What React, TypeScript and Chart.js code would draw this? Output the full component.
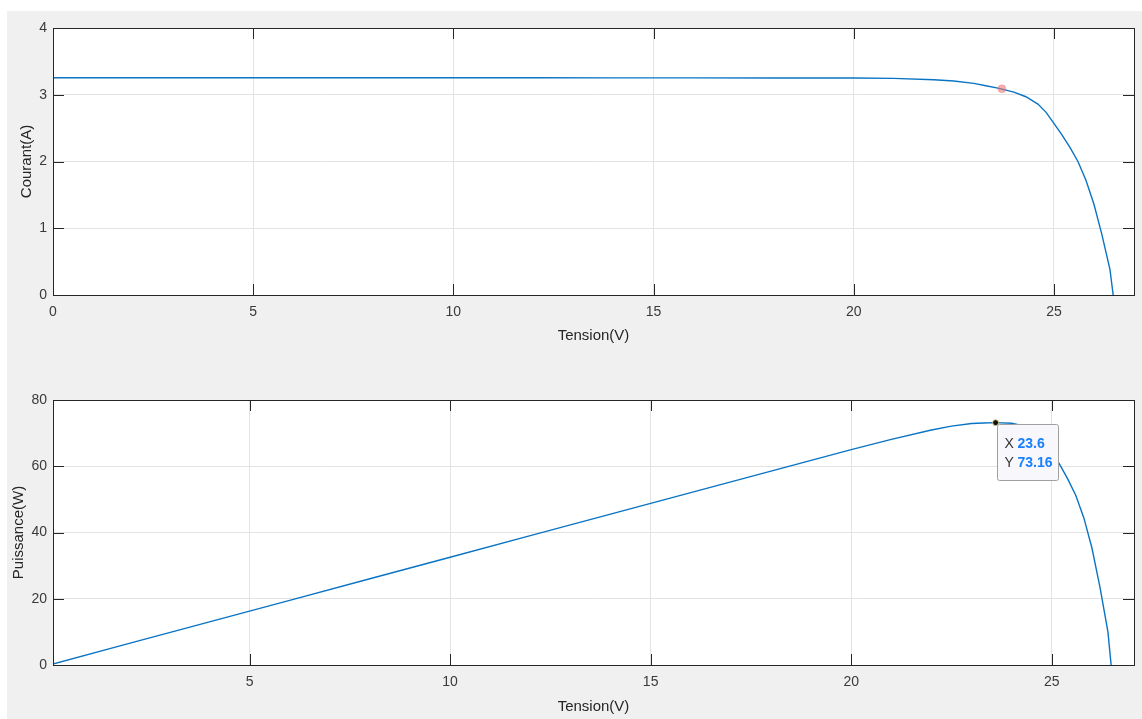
import React, { useEffect, useRef } from "react";
import { Chart, registerables } from "chart.js";

Chart.register(...registerables);

// ---- data ----
const voltage = [0, 2, 4, 6, 8, 10, 12, 14, 16, 18, 20, 21, 22, 22.5, 23, 23.3, 23.6, 24, 24.3, 24.6, 24.8, 25, 25.2, 25.4, 25.6, 25.8, 26, 26.2, 26.4, 26.48];
const current = [3.255, 3.255, 3.255, 3.255, 3.255, 3.254, 3.254, 3.253, 3.253, 3.252, 3.25, 3.245, 3.225, 3.205, 3.17, 3.135, 3.1, 3.04, 2.97, 2.86, 2.74, 2.57, 2.4, 2.21, 2.0, 1.72, 1.36, 0.9, 0.38, 0];
const power = [0, 6.51, 13.02, 19.53, 26.04, 32.54, 39.05, 45.54, 52.05, 58.54, 65.0, 68.1, 70.95, 72.1, 72.9, 73.05, 73.16, 72.96, 72.2, 70.4, 68.0, 64.3, 60.5, 56.1, 51.2, 44.4, 35.4, 23.6, 10.0, 0];

const xTicksTop = [0, 5, 10, 15, 20, 25];
const yTicksTop = [0, 1, 2, 3, 4];
const xTicksBottom = [5, 10, 15, 20, 25];
const yTicksBottom = [0, 20, 40, 60, 80];

const markerTopX = [23.7];
const markerTopY = [3.09];
const datatipX = [23.6];
const datatipY = [73.16];

const xTitle = "Tension(V)";
const yTitleTop = "Courant(A)";
const yTitleBottom = "Puissance(W)";

const FONT = "'Liberation Sans', Arial, Helvetica, sans-serif";
const LINE_COLOR = "#0a74c4";

const boxPlugin = {
  id: "matlabBox",
  beforeDraw(chart: any) {
    const { ctx, chartArea: a } = chart;
    ctx.save();
    ctx.fillStyle = "#ffffff";
    ctx.fillRect(a.left, a.top, a.right - a.left, a.bottom - a.top);
    ctx.restore();
  },
  afterDatasetDraw(chart: any, args: any) {
    const tip = chart.options.plugins.matlabBox?.tip;
    if (!tip || args.index !== 1) return;
    const { ctx, scales } = chart;
    const px = scales.x.getPixelForValue(tip.x);
    const py = scales.y.getPixelForValue(tip.y);
    const bx = Math.round(px + 1) + 0.5;
    const by = Math.round(py + 1.5) + 0.5;
    const bw = 61;
    const bh = 56;
    ctx.save();
    ctx.beginPath();
    const r = 2;
    ctx.moveTo(bx + r, by);
    ctx.lineTo(bx + bw - r, by);
    ctx.arcTo(bx + bw, by, bx + bw, by + r, r);
    ctx.lineTo(bx + bw, by + bh - r);
    ctx.arcTo(bx + bw, by + bh, bx + bw - r, by + bh, r);
    ctx.lineTo(bx + r, by + bh);
    ctx.arcTo(bx, by + bh, bx, by + bh - r, r);
    ctx.lineTo(bx, by + r);
    ctx.arcTo(bx, by, bx + r, by, r);
    ctx.closePath();
    ctx.fillStyle = "#f8f8fc";
    ctx.fill();
    ctx.strokeStyle = "#a0a0a0";
    ctx.lineWidth = 1;
    ctx.stroke();
    ctx.textBaseline = "middle";
    ctx.textAlign = "left";
    ctx.font = `14px ${FONT}`;
    ctx.fillStyle = "#333333";
    ctx.fillText("X", bx + 7, by + 20);
    ctx.fillText("Y", bx + 7, by + 39);
    ctx.font = `bold 14px ${FONT}`;
    ctx.fillStyle = "#1a7fff";
    ctx.fillText(String(tip.x), bx + 20, by + 20);
    ctx.fillText(String(tip.y), bx + 20, by + 39);
    ctx.restore();
  },
  afterDraw(chart: any) {
    const { ctx, chartArea: a, scales } = chart;
    const L = chart.options.plugins.matlabBox?.tickLen ?? 11;
    ctx.save();
    ctx.strokeStyle = "#262626";
    ctx.lineWidth = 1;
    ctx.beginPath();
    for (const t of scales.x.ticks) {
      const px = Math.round(scales.x.getPixelForValue(t.value)) + 0.5;
      ctx.moveTo(px, a.bottom);
      ctx.lineTo(px, a.bottom - L);
      ctx.moveTo(px, a.top);
      ctx.lineTo(px, a.top + L);
    }
    for (const t of scales.y.ticks) {
      const py = Math.round(scales.y.getPixelForValue(t.value)) + 0.5;
      ctx.moveTo(a.left, py);
      ctx.lineTo(a.left + L, py);
      ctx.moveTo(a.right, py);
      ctx.lineTo(a.right - L, py);
    }
    ctx.stroke();
    ctx.strokeRect(Math.round(a.left) + 0.5, Math.round(a.top) + 0.5, Math.round(a.right - a.left), Math.round(a.bottom - a.top));
    ctx.restore();
  },
};

function makeConfig(p: any): any {
  return {
    type: "scatter",
    data: {
      datasets: [
        {
          data: p.markX.map((x: number, i: number) => ({ x, y: p.markY[i] })),
          showLine: false,
          pointRadius: p.markRadius,
          pointBackgroundColor: p.markFill,
          pointBorderColor: p.markBorder,
          pointBorderWidth: 1,
        },
        {
          data: p.xs.map((x: number, i: number) => ({ x, y: p.ys[i] })),
          showLine: true,
          borderColor: LINE_COLOR,
          borderWidth: 1.4,
          pointRadius: 0,
          tension: 0,
          fill: false,
        },
      ],
    },
    options: {
      responsive: false,
      animation: false,
      events: [],
      layout: { padding: { left: 0, top: p.padTop, right: 8, bottom: 0 } },
      plugins: {
        legend: { display: false },
        tooltip: { enabled: false },
        matlabBox: { tickLen: 11, tip: p.tip },
      },
      scales: {
        x: {
          type: "linear",
          min: p.xMin,
          max: p.xMax,
          afterBuildTicks: (s: any) => {
            s.ticks = p.xTicks.map((v: number) => ({ value: v }));
          },
          afterFit: (s: any) => {
            s.height = p.xAxisH;
          },
          grid: { color: "#e3e3e3", drawTicks: false, lineWidth: 1 },
          border: { display: false },
          ticks: {
            padding: 9,
            color: "#3a3a3a",
            font: { family: FONT, size: 14 },
            maxRotation: 0,
            autoSkip: false,
            callback: (v: any) => String(v),
          },
          title: {
            display: true,
            text: xTitle,
            color: "#262626",
            font: { family: FONT, size: 15 },
            padding: { top: 0, bottom: p.xTitlePad },
          },
        },
        y: {
          type: "linear",
          min: p.yMin,
          max: p.yMax,
          afterBuildTicks: (s: any) => {
            s.ticks = p.yTicks.map((v: number) => ({ value: v }));
          },
          afterFit: (s: any) => {
            s.width = 46;
          },
          grid: { color: "#e3e3e3", drawTicks: false, lineWidth: 1 },
          border: { display: false },
          ticks: {
            padding: 6,
            color: "#3a3a3a",
            font: { family: FONT, size: 14 },
            autoSkip: false,
            callback: (v: any) => String(v),
          },
          title: {
            display: true,
            text: p.yTitle,
            color: "#262626",
            font: { family: FONT, size: 15 },
            padding: { top: p.yTitlePad, bottom: 0 },
          },
        },
      },
    },
    plugins: [boxPlugin],
  };
}

export default function App() {
  const topRef = useRef<HTMLCanvasElement | null>(null);
  const botRef = useRef<HTMLCanvasElement | null>(null);

  useEffect(() => {
    const c1 = new Chart(
      topRef.current as HTMLCanvasElement,
      makeConfig({
        xs: voltage,
        ys: current,
        xMin: 0,
        xMax: 27,
        yMin: 0,
        yMax: 4,
        xTicks: xTicksTop,
        yTicks: yTicksTop,
        yTitle: yTitleTop,
        padTop: 17,
        xAxisH: 65,
        xTitlePad: 15,
        yTitlePad: 11,
        markX: markerTopX,
        markY: markerTopY,
        markRadius: 4,
        markFill: "rgba(240,110,110,0.55)",
        markBorder: "rgba(240,110,110,0.3)",
        tip: null,
      })
    );
    const c2 = new Chart(
      botRef.current as HTMLCanvasElement,
      makeConfig({
        xs: voltage,
        ys: power,
        xMin: 0.1,
        xMax: 27.05,
        yMin: 0,
        yMax: 80,
        xTicks: xTicksBottom,
        yTicks: yTicksBottom,
        yTitle: yTitleBottom,
        padTop: 40,
        xAxisH: 54,
        xTitlePad: 3,
        yTitlePad: 3,
        markX: datatipX,
        markY: datatipY,
        markRadius: 3,
        markFill: "#111111",
        markBorder: "#d8d090",
        tip: { x: datatipX[0], y: datatipY[0] },
      })
    );
    return () => {
      c1.destroy();
      c2.destroy();
    };
  }, []);

  return (
    <div
      style={{
        position: "absolute",
        left: 7,
        top: 11,
        width: 1135,
        height: 708,
        background: "#f0f0f0",
      }}
    >
      <canvas
        ref={topRef}
        width={1135}
        height={349}
        style={{ position: "absolute", left: 0, top: 0, width: 1135, height: 349, display: "block" }}
      />
      <canvas
        ref={botRef}
        width={1135}
        height={359}
        style={{ position: "absolute", left: 0, top: 349, width: 1135, height: 359, display: "block" }}
      />
    </div>
  );
}
